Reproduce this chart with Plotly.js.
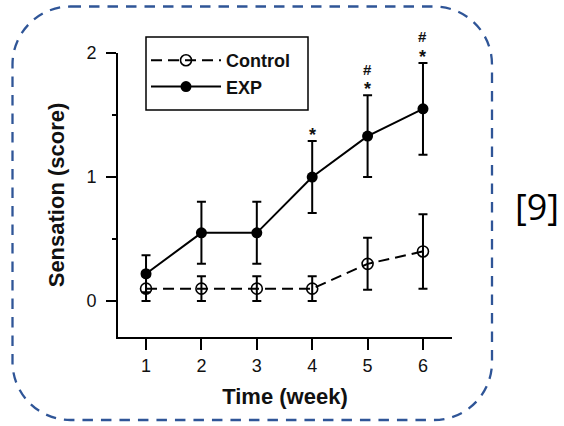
<!DOCTYPE html>
<html>
<head>
<meta charset="utf-8">
<script src="https://cdn.plot.ly/plotly-3.0.1.min.js"></script>
<style>
  html, body { margin: 0; padding: 0; background: #fff; }
  #chart { width: 564px; height: 426px; }
</style>
</head>
<body>
<div id="chart"></div>
<script>
// ---- data ----
const weeks = [1, 2, 3, 4, 5, 6];
const weekLabels = ['1', '2', '3', '4', '5', '6'];
const controlMean = [0.10, 0.10, 0.10, 0.10, 0.30, 0.40];
const controlErr  = [0.10, 0.10, 0.10, 0.10, 0.21, 0.30];
const expMean = [0.22, 0.55, 0.55, 1.00, 1.33, 1.55];
const expErr  = [0.15, 0.25, 0.25, 0.29, 0.33, 0.37];
const starMarks = ['', '', '', '*', '*', '*'];
const hashMarks = ['', '', '', '', '#', '#'];
const yTickVals = [0, 1, 2];
const yTickText = ['0', '1', '2'];
const seriesNames = ['Control', 'EXP'];
const refLabel = '[9]';

// ---- layout helpers ----
const W = 564, H = 426;
const M = { l: 118, r: 112, t: 53, b: 89 };
const PW = W - M.l - M.r, PH = H - M.t - M.b;
const px = v => (v - M.l) / PW;
const py = v => (H - M.b - v) / PH;

function roundRectPath(L, T, R, B, r) {
  const k = 0.5523 * r;
  const P = (x, y) => px(x).toFixed(5) + ',' + py(y).toFixed(5);
  return 'M' + P(L + r, T) +
    ' L' + P(R - r, T) +
    ' C' + P(R - r + k, T) + ' ' + P(R, T + r - k) + ' ' + P(R, T + r) +
    ' L' + P(R, B - r) +
    ' C' + P(R, B - r + k) + ' ' + P(R - r + k, B) + ' ' + P(R - r, B) +
    ' L' + P(L + r, B) +
    ' C' + P(L + r - k, B) + ' ' + P(L, B - r + k) + ' ' + P(L, B - r) +
    ' L' + P(L, T + r) +
    ' C' + P(L, T + r - k) + ' ' + P(L + r - k, T) + ' ' + P(L + r, T) + ' Z';
}

const FONT = 'Liberation Sans, Arial, sans-serif';

const traces = [
  {
    x: weeks, y: controlMean, name: seriesNames[0],
    type: 'scatter', mode: 'lines+markers',
    line: { color: '#000', width: 2, dash: '11px,6px' },
    marker: { symbol: 'circle-open', size: 11, color: '#000', line: { width: 1.6, color: '#000' } },
    error_y: { type: 'data', array: controlErr, visible: true, color: '#000', thickness: 2, width: 4.5 }
  },
  {
    x: weeks, y: expMean, name: seriesNames[1],
    type: 'scatter', mode: 'lines+markers',
    line: { color: '#000', width: 2 },
    marker: { symbol: 'circle', size: 11, color: '#000' },
    error_y: { type: 'data', array: expErr, visible: true, color: '#000', thickness: 2, width: 4.5 }
  }
];

const annotations = [];
weeks.forEach((w, i) => {
  const top = expMean[i] + expErr[i];
  if (starMarks[i]) annotations.push({
    x: w, y: top, xref: 'x', yref: 'y', text: '<b>' + starMarks[i] + '</b>',
    showarrow: false, xanchor: 'center', yanchor: 'middle', yshift: 6,
    font: { family: FONT, size: 18, color: '#111' }
  });
  if (hashMarks[i]) annotations.push({
    x: w, y: top, xref: 'x', yref: 'y', text: '<b>' + hashMarks[i] + '</b>',
    showarrow: false, xanchor: 'center', yanchor: 'middle', yshift: 26,
    font: { family: FONT, size: 15, color: '#111' }
  });
});
annotations.push({
  x: px(537), y: py(207), xref: 'paper', yref: 'paper', text: refLabel,
  showarrow: false, xanchor: 'center', yanchor: 'middle',
  font: { family: 'Open Sans, Noto Sans, sans-serif', size: 36, color: '#000' }
});

const layout = {
  width: W, height: H,
  margin: { l: M.l, r: M.r, t: M.t, b: M.b, pad: 0 },
  paper_bgcolor: '#fff', plot_bgcolor: '#fff',
  showlegend: true,
  legend: {
    x: px(146), y: py(42), xanchor: 'left', yanchor: 'top',
    bgcolor: 'rgba(0,0,0,0)', borderwidth: 0,
    font: { family: FONT, size: 18, color: '#111', weight: 'bold' },
    itemwidth: 70, tracegroupgap: 0
  },
  xaxis: {
    range: [0.494, 6.524], tickvals: weeks, ticktext: weekLabels,
    ticks: 'outside', ticklen: 11, tickwidth: 2, tickcolor: '#000',
    showline: true, linewidth: 2, linecolor: '#000', mirror: false,
    showgrid: false, zeroline: false, fixedrange: true,
    tickfont: { family: FONT, size: 18, color: '#111' },
    title: { text: '<b>Time (week)</b>', font: { family: FONT, size: 22, color: '#111' }, standoff: 14 }
  },
  yaxis: {
    range: [-0.29, 2.0], tickvals: yTickVals, ticktext: yTickText,
    ticks: 'outside', ticklen: 10, tickwidth: 2, tickcolor: '#000',
    minor: { tickvals: [0.5, 1.5], ticks: 'outside', ticklen: 4, tickwidth: 2, tickcolor: '#000', showgrid: false },
    showline: true, linewidth: 2, linecolor: '#000',
    showgrid: false, zeroline: false, fixedrange: true,
    tickfont: { family: FONT, size: 18, color: '#111' },
    ticklabelstandoff: 6,
    title: { text: '<b>Sensation (score)</b>', font: { family: FONT, size: 22, color: '#111' }, standoff: 16 }
  },
  shapes: [
    {
      type: 'path', xref: 'paper', yref: 'paper',
      path: roundRectPath(12.5, 6.5, 492, 420, 58),
      line: { color: '#2F5597', width: 2.3, dash: '10.5px,8px' },
      fillcolor: 'rgba(0,0,0,0)', layer: 'below'
    },
    {
      type: 'rect', xref: 'paper', yref: 'paper',
      x0: px(146), x1: px(308), y0: py(37), y1: py(110),
      line: { color: '#000', width: 1.5 },
      fillcolor: 'rgba(0,0,0,0)', layer: 'above'
    }
  ],
  annotations: annotations
};

Plotly.newPlot('chart', traces, layout, { displayModeBar: false, staticPlot: true });
</script>
</body>
</html>
